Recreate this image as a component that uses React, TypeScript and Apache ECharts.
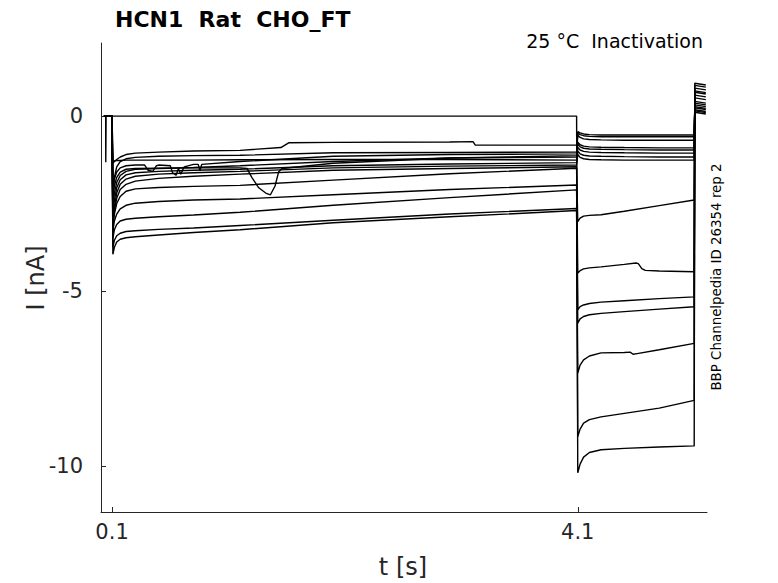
import { useEffect, useRef } from "react";
import * as echarts from "echarts";

// every sweep sits at holding (0 nA) before the step at 0.1 s
const holdTimes = [0.03, 0.1];

// first step (0.1 s .. 4.1 s)
const seg1Times = [0.107, 0.12, 0.14, 0.17, 0.22, 0.3, 0.5, 0.8, 1.2, 2.0, 3.0, 4.09];
const seg1Currents = [
  [0, 0, 0, 0, 0, 0, 0, 0, 0, 0, 0, 0],
  [-3.95, -3.75, -3.6, -3.52, -3.48, -3.45, -3.4, -3.33, -3.25, -3.05, -2.88, -2.7],
  [-3.75, -3.55, -3.42, -3.35, -3.3, -3.28, -3.24, -3.2, -3.13, -2.98, -2.8, -2.64],
  [-3.5, -3.25, -3.1, -3.0, -2.95, -2.92, -2.88, -2.83, -2.75, -2.55, -2.33, -2.11],
  [-3.3, -3.0, -2.8, -2.65, -2.55, -2.49, -2.44, -2.4, -2.37, -2.25, -2.1, -1.97],
  [-3.2, -2.8, -2.5, -2.3, -2.15, -2.08, -2.04, -2.01, -1.98, -1.83, -1.65, -1.49],
  [-3.1, -2.7, -2.35, -2.1, -1.95, -1.86, -1.78, -1.72, -1.66, -1.55, -1.5, -1.45],
  [-3.0, -2.6, -2.2, -1.95, -1.8, -1.72, -1.66, -1.62, -1.58, -1.48, -1.43, -1.4],
  [-2.8, -2.4, -2.05, -1.82, -1.68, -1.62, -1.58, -1.55, -1.52, -1.42, -1.37, -1.33],
  [-2.6, -2.2, -1.9, -1.7, -1.58, -1.52, -1.5, -1.47, -1.42, -1.3, -1.2, -1.17],
  [-2.4, -2.0, -1.75, -1.6, -1.52, -1.5, -1.49, -1.48, -1.48, -1.35, -1.2, -1.13],
  [-2.1, -1.8, -1.6, -1.48, -1.42, -1.4, -1.4, -1.38, -1.3, -1.15, -1.1, -1.08],
  [-1.35, -1.3, -1.24, -1.17, -1.1, -1.06, -1.03, -1.0, -0.98, -0.75, -0.74, -0.83],
  [-2.2, -1.75, -1.45, -1.3, -1.22, -1.18, -1.15, -1.13, -1.12, -1.05, -1.04, -1.03],
  [-1.3, -1.28, -1.27, -1.27, -1.26, -1.26, -1.26, -1.26, -1.25, -1.24, -1.24, -1.26],
];

// second step (4.1 s .. 5.1 s)
const seg2Times = [4.1, 4.12, 4.15, 4.2, 4.3, 4.5, 4.8, 5.1];
const seg2Currents = [
  [-10.2, -9.95, -9.75, -9.62, -9.54, -9.5, -9.46, -9.43],
  [-9.16, -8.95, -8.78, -8.68, -8.6, -8.5, -8.35, -8.13],
  [-7.35, -7.12, -6.97, -6.86, -6.77, -6.76, -6.68, -6.5],
  [-5.92, -5.8, -5.73, -5.68, -5.64, -5.59, -5.52, -5.45],
  [-5.54, -5.45, -5.4, -5.36, -5.32, -5.28, -5.22, -5.17],
  [-4.49, -4.42, -4.37, -4.34, -4.31, -4.24, -4.43, -4.45],
  [-3.02, -2.92, -2.86, -2.84, -2.82, -2.72, -2.56, -2.4],
  [-1.1, -1.18, -1.22, -1.24, -1.25, -1.26, -1.26, -1.26],
  [-1.0, -1.08, -1.12, -1.14, -1.15, -1.16, -1.17, -1.17],
  [-0.9, -0.97, -1.01, -1.03, -1.04, -1.05, -1.06, -1.06],
  [-0.8, -0.88, -0.92, -0.94, -0.95, -0.96, -0.97, -0.97],
  [-0.75, -0.82, -0.86, -0.88, -0.89, -0.9, -0.91, -0.91],
  [-0.55, -0.61, -0.65, -0.67, -0.68, -0.69, -0.69, -0.69],
  [-0.48, -0.53, -0.56, -0.58, -0.59, -0.59, -0.59, -0.59],
  [-0.44, -0.48, -0.51, -0.53, -0.54, -0.54, -0.54, -0.54],
];

// tail currents after stepping back
const tailTimes = [5.105, 5.2];
const tailCurrents = [
  [0.94, 0.89], [0.88, 0.83], [0.8, 0.75], [0.72, 0.67], [0.68, 0.63],
  [0.6, 0.55], [0.52, 0.47], [0.42, 0.37], [0.37, 0.32], [0.32, 0.27],
  [0.27, 0.22], [0.24, 0.19], [0.18, 0.13], [0.15, 0.1], [0.11, 0.06],
];

// noise / glitches on single sweeps
const glitches: Record<number, [number, number][]> = {
  0: [[0.045, 0], [0.046, -1.32], [0.048, -1.32], [0.049, 0]],
  10: [[1.26, -1.5], [1.3, -1.75], [1.36, -2.05], [1.42, -2.2], [1.46, -2.25], [1.5, -2.0], [1.53, -1.6], [1.56, -1.5]],
  11: [
    [0.38, -1.4], [0.41, -1.55], [0.45, -1.58], [0.48, -1.42],
    [0.6, -1.42], [0.62, -1.62], [0.65, -1.69], [0.67, -1.5], [0.69, -1.66], [0.72, -1.45],
    [0.84, -1.38], [0.855, -1.56], [0.87, -1.38],
  ],
  12: [[1.55, -0.9], [1.62, -0.76], [3.2, -0.73], [3.22, -0.83]],
};
const seg2Glitches: Record<number, [number, number][]> = {
  2: [[4.55, -6.75], [4.575, -6.81], [4.61, -6.79]],
  5: [[4.6, -4.2], [4.62, -4.22], [4.65, -4.36], [4.68, -4.41]],
};

const INK = "#262626";
const FONT = "DejaVu Sans";

const buildSweep = (i: number): [number, number][] => {
  const pts: [number, number][] = [];
  holdTimes.forEach((t) => pts.push([t, 0]));
  seg1Times.forEach((t, j) => pts.push([t, seg1Currents[i][j]]));
  (glitches[i] || []).forEach((p) => pts.push(p));
  seg2Times.forEach((t, j) => pts.push([t, seg2Currents[i][j]]));
  (seg2Glitches[i] || []).forEach((p) => pts.push(p));
  tailTimes.forEach((t, j) => pts.push([t, tailCurrents[i][j]]));
  return pts.sort((a, b) => a[0] - b[0]);
};

const App = () => {
  const chartRef = useRef<HTMLDivElement>(null);

  useEffect(() => {
    if (!chartRef.current) return;
    const chart = echarts.init(chartRef.current, null, { renderer: "svg" });

    const series = seg1Currents.map((_, i) => ({
      type: "line" as const,
      data: buildSweep(i),
      showSymbol: false,
      silent: true,
      lineStyle: { color: "#000", width: 1.4 },
    }));

    chart.setOption({
      animation: false,
      grid: { left: 101, top: 43, right: 71, bottom: 71, outerBoundsMode: "none" },
      xAxis: {
        type: "value",
        min: 0.005,
        max: 5.21,
        axisLine: { show: true, onZero: false, lineStyle: { color: INK, width: 1 } },
        axisTick: { show: true, inside: true, length: 5, customValues: [0.1, 4.1], lineStyle: { color: INK } },
        axisLabel: { customValues: [0.1, 4.1], fontSize: 21, color: INK, fontFamily: FONT, margin: 9 },
        splitLine: { show: false },
      },
      yAxis: {
        type: "value",
        min: -11.32,
        max: 2.09,
        axisLine: { show: true, onZero: false, lineStyle: { color: INK, width: 1 } },
        axisTick: { show: true, inside: true, length: 5, customValues: [-10, -5, 0], lineStyle: { color: INK } },
        axisLabel: { customValues: [-10, -5, 0], fontSize: 21, color: INK, fontFamily: FONT, margin: 18 },
        splitLine: { show: false },
      },
      graphic: [
        {
          type: "text",
          x: 115,
          y: 19,
          style: { text: "HCN1  Rat  CHO_FT", font: `bold 22px "${FONT}"`, fill: "#000", textVerticalAlign: "middle" },
        },
        {
          type: "text",
          x: 703,
          y: 41,
          style: { text: "25 °C  Inactivation", font: `19px "${FONT}"`, fill: "#000", textAlign: "right", textVerticalAlign: "middle" },
        },
        {
          type: "text",
          x: 403,
          y: 567,
          style: { text: "t [s]", font: `24px "${FONT}"`, fill: INK, textAlign: "center", textVerticalAlign: "middle" },
        },
        {
          type: "text",
          x: 36,
          y: 278,
          rotation: Math.PI / 2,
          style: { text: "I [nA]", font: `24px "${FONT}"`, fill: INK, textAlign: "center", textVerticalAlign: "middle" },
        },
        {
          type: "text",
          x: 716,
          y: 277,
          rotation: Math.PI / 2,
          style: { text: "BBP Channelpedia ID 26354 rep 2", font: `13.4px "${FONT}"`, fill: "#000", textAlign: "center", textVerticalAlign: "middle" },
        },
      ],
      series,
    });

    return () => {
      chart.dispose();
    };
  }, []);

  return <div ref={chartRef} style={{ position: "absolute", left: 0, top: 0, width: 778, height: 583 }} />;
};

export default App;
